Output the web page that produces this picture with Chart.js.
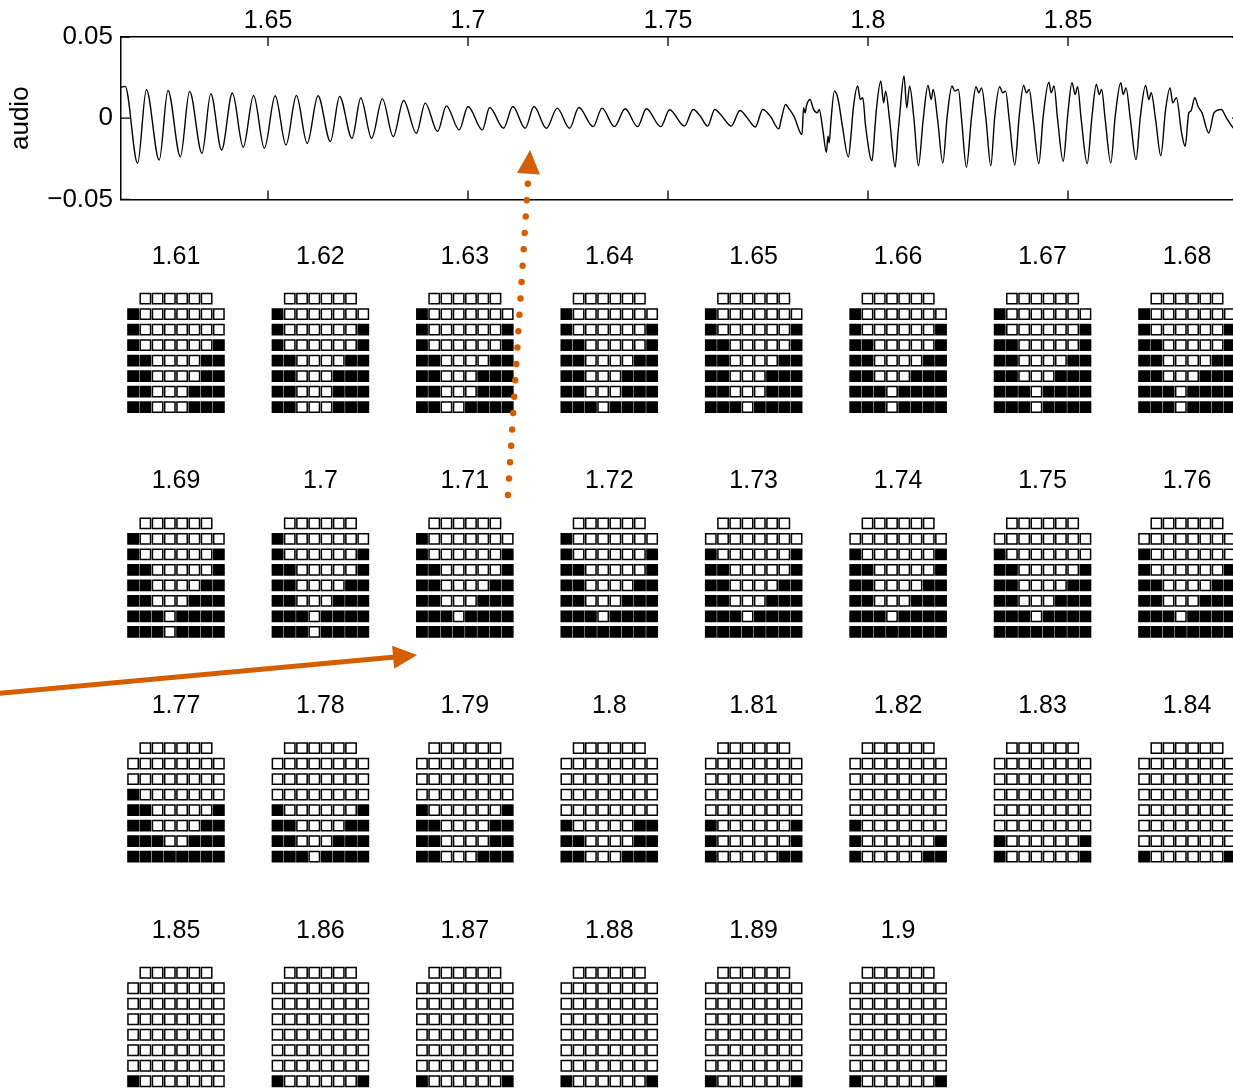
<!DOCTYPE html>
<html>
<head>
<meta charset="utf-8">
<script src="https://cdn.jsdelivr.net/npm/chart.js@4.4.1/dist/chart.umd.min.js"></script>
<style>
  body { margin: 0; background: #fff; overflow: hidden; }
  #wrap { position: relative; width: 1233px; height: 1090px; overflow: hidden; background: #fff; }
  canvas { position: absolute; left: 0; top: 0; }
  #epg { pointer-events: none; }
</style>
</head>
<body>
<div id="wrap">
  <canvas id="wave" width="1250" height="223"></canvas>
  <canvas id="epg" width="1233" height="1090"></canvas>
</div>
<script>
// audio trace (time in s, amplitude)
const waveT = [
  1.61325, 1.6143, 1.6174, 1.6196, 1.6228, 1.6250, 1.6281, 1.6304, 1.6335, 1.6357,
  1.6384, 1.6411, 1.6438, 1.6464, 1.6491, 1.6518, 1.6545, 1.6571, 1.6598, 1.6625,
  1.6656, 1.6679, 1.6710, 1.6732, 1.6759, 1.6786, 1.6813, 1.6839, 1.6871, 1.6893,
  1.6924, 1.6946, 1.6978, 1.7000, 1.7036, 1.7054, 1.7089, 1.7112, 1.7143, 1.7165,
  1.7196, 1.7223, 1.7254, 1.7277, 1.7313, 1.7335, 1.7366, 1.7393, 1.7424, 1.7446,
  1.7482, 1.7504,
  1.7541, 1.7563, 1.7581, 1.7599, 1.7617, 1.7635, 1.7658, 1.7680, 1.7698, 1.7718,
  1.7737, 1.7756, 1.7777, 1.7783, 1.7794, 1.7801, 1.7815, 1.7835, 1.7839, 1.7843,
  1.7846, 1.7855, 1.7864, 1.7873, 1.7878, 1.7887, 1.7896, 1.7900, 1.7903, 1.7907,
  1.7916, 1.7922, 1.7927, 1.7936, 1.7951, 1.7958, 1.7963, 1.7974, 1.7981, 1.7987,
  1.7994, 1.8010, 1.8017, 1.8021, 1.8032, 1.8039, 1.8044, 1.8054, 1.8068, 1.8075,
  1.8079, 1.8090, 1.8097, 1.8104, 1.8115, 1.8126, 1.8138, 1.8150, 1.8158, 1.8163,
  1.8174, 1.8187, 1.8198, 1.8210, 1.8217, 1.8226, 1.8234, 1.8246, 1.8259, 1.8270,
  1.8277, 1.8284, 1.8295, 1.8307, 1.8317, 1.8329, 1.8337, 1.8344, 1.8353, 1.8367,
  1.8378, 1.8389, 1.8396, 1.8403, 1.8413, 1.8427, 1.8438, 1.8452, 1.8458, 1.8465,
  1.8474, 1.8488, 1.8499, 1.8510, 1.8518, 1.8524, 1.8533, 1.8548, 1.8560, 1.8571,
  1.8578, 1.8584, 1.8593, 1.8607, 1.8618, 1.8632, 1.8638, 1.8645, 1.8656, 1.8670,
  1.8681, 1.8694, 1.8702, 1.8708, 1.8719, 1.8732, 1.8744, 1.8755, 1.8762, 1.8771,
  1.8784, 1.8793, 1.8802, 1.8807, 1.8817, 1.8825, 1.8835, 1.8852, 1.8865, 1.8883,
  1.8896, 1.8913, 1.8932
];
const waveV = [
  0.0190, 0.0196, -0.0278, 0.0175, -0.0258, 0.0171, -0.0237, 0.0165, -0.0216, 0.0150,
  -0.0196, 0.0155, -0.0179, 0.0140, -0.0185, 0.0138, -0.0165, 0.0140, -0.0155, 0.0138,
  -0.0144, 0.0134, -0.0124, 0.0124, -0.0124, 0.0119, -0.0113, 0.0109, -0.0093, 0.0093,
  -0.0082, 0.0076, -0.0072, 0.0072, -0.0072, 0.0066, -0.0062, 0.0072, -0.0062, 0.0072,
  -0.0062, 0.0062, -0.0062, 0.0066, -0.0052, 0.0062, -0.0052, 0.0058, -0.0052, 0.0058,
  -0.0052, 0.0052,
  -0.0049, 0.0054, 0.0012, -0.0049, 0.0054, 0.0012, -0.0049, 0.0047, 0.0002, -0.0054,
  0.0054, 0.0012, -0.0066, -0.0008, 0.0084, 0.0064, 0.0012, -0.0101, 0.0064, 0.0033,
  0.0074, 0.0115, 0.0054, 0.0033, 0.0054, -0.0070, -0.0210, -0.0111, -0.0152, -0.0029,
  0.0167, 0.0146, 0.0095, -0.0049, -0.0239, -0.0091, 0.0054, 0.0198, 0.0115, 0.0126,
  -0.0049, -0.0262, -0.0070, 0.0054, 0.0229, 0.0095, 0.0167, -0.0008, -0.0301, -0.0091,
  0.0012, 0.0260, 0.0064, 0.0198, -0.0008, -0.0293, -0.0008, 0.0202, 0.0115, 0.0177,
  -0.0008, -0.0276, 0.0012, 0.0198, 0.0167, 0.0177, -0.0008, -0.0301, 0.0012, 0.0194,
  0.0157, 0.0187, -0.0008, -0.0293, 0.0012, 0.0194, 0.0157, 0.0167, -0.0008, -0.0288,
  0.0012, 0.0202, 0.0157, 0.0177, -0.0008, -0.0280, 0.0012, 0.0222, 0.0157, 0.0198,
  -0.0008, -0.0266, 0.0012, 0.0218, 0.0146, 0.0194, -0.0008, -0.0280, 0.0012, 0.0208,
  0.0146, 0.0177, -0.0008, -0.0276, 0.0012, 0.0218, 0.0146, 0.0187, -0.0008, -0.0255,
  0.0012, 0.0202, 0.0115, 0.0157, -0.0008, -0.0231, 0.0054, 0.0187, 0.0095, 0.0126,
  -0.0091, -0.0173, 0.0033, 0.0043, 0.0126, 0.0074, 0.0033, -0.0091, 0.0033, 0.0054,
  0.0002, -0.0060, -0.0080
];
const xTicks = [1.65, 1.7, 1.75, 1.8, 1.85];
const yTicks = [-0.05, 0, 0.05];

// contact frames: first row has 6 electrodes, the rest 8; '1' = contact
const frameLabels = ['1.61', '1.62', '1.63', '1.64', '1.65', '1.66', '1.67', '1.68',
  '1.69', '1.7', '1.71', '1.72', '1.73', '1.74', '1.75', '1.76',
  '1.77', '1.78', '1.79', '1.8', '1.81', '1.82', '1.83', '1.84',
  '1.85', '1.86', '1.87', '1.88', '1.89', '1.9'];
const contacts = [
  ['000000', '10000000', '10000000', '10000001', '11000011', '11000011', '11000111', '11000111'],
  ['000000', '10000000', '10000001', '10000001', '11000011', '11000111', '11000111', '11000111'],
  ['000000', '10000000', '10000001', '10000001', '11000011', '11000111', '11000111', '11001111'],
  ['000000', '10000000', '10000001', '11000001', '11000011', '11000111', '11000111', '11101111'],
  ['000000', '10000000', '10000001', '11000001', '11000011', '11000111', '11000111', '11101111'],
  ['000000', '10000000', '10000001', '11000001', '11000011', '11000111', '11101111', '11101111'],
  ['000000', '10000000', '10000001', '11000001', '11000011', '11000111', '11101111', '11101111'],
  ['000000', '10000000', '10000001', '11000001', '11000011', '11000111', '11101111', '11101111'],
  ['000000', '10000000', '10000001', '11000001', '11000011', '11000111', '11101111', '11101111'],
  ['000000', '10000000', '10000001', '11000001', '11000011', '11000111', '11101111', '11101111'],
  ['000000', '10000000', '10000001', '11000001', '11000011', '11000111', '11101111', '11111111'],
  ['000000', '10000000', '10000001', '11000001', '11000011', '11000111', '11101111', '11111111'],
  ['000000', '00000000', '10000001', '11000001', '11000011', '11000111', '11101111', '11111111'],
  ['000000', '00000000', '10000001', '11000001', '11000011', '11000111', '11101111', '11111111'],
  ['000000', '00000000', '10000000', '11000001', '11000011', '11000111', '11101111', '11111111'],
  ['000000', '00000000', '10000000', '10000001', '11000011', '11000111', '11101111', '11111111'],
  ['000000', '00000000', '00000000', '10000000', '11000001', '11000011', '11100111', '11111111'],
  ['000000', '00000000', '00000000', '00000000', '10000001', '11000011', '11000111', '11101111'],
  ['000000', '00000000', '00000000', '00000000', '10000001', '11000011', '11000011', '11000111'],
  ['000000', '00000000', '00000000', '00000000', '00000000', '10000011', '11000011', '11000111'],
  ['000000', '00000000', '00000000', '00000000', '00000000', '10000001', '10000001', '10000011'],
  ['000000', '00000000', '00000000', '00000000', '00000000', '10000000', '10000001', '10000011'],
  ['000000', '00000000', '00000000', '00000000', '00000000', '00000000', '10000001', '10000001'],
  ['000000', '00000000', '00000000', '00000000', '00000000', '00000000', '00000000', '10000001'],
  ['000000', '00000000', '00000000', '00000000', '00000000', '00000000', '00000000', '10000000'],
  ['000000', '00000000', '00000000', '00000000', '00000000', '00000000', '00000000', '10000001'],
  ['000000', '00000000', '00000000', '00000000', '00000000', '00000000', '00000000', '10000001'],
  ['000000', '00000000', '00000000', '00000000', '00000000', '00000000', '00000000', '10000001'],
  ['000000', '00000000', '00000000', '00000000', '00000000', '00000000', '00000000', '10000001'],
  ['000000', '00000000', '00000000', '00000000', '00000000', '00000000', '00000000', '10000001']
];

// layout of the frame panel, in electrode units
const PER_ROW = 8;
const GRID_DX = 11.79;
const GRID_DY = 14.495;
const LABEL_DY = -2.7;
const ORANGE = '#D55E00';

Chart.defaults.font.family = '"Liberation Sans", Arial, Helvetica, sans-serif';
Chart.defaults.color = '#000';

const X_MIN = 1.61325, X_MAX = 1.89325;

// inward tick marks on all sides of the audio box
const boxTicks = {
  id: 'boxTicks',
  afterDraw(chart) {
    const { ctx, chartArea: { top, bottom, left, right } } = chart;
    const x = chart.scales.x, y = chart.scales.y;
    ctx.save();
    ctx.strokeStyle = '#000';
    ctx.lineWidth = 1.3;
    ctx.beginPath();
    xTicks.forEach(v => {
      const px = x.getPixelForValue(v);
      ctx.moveTo(px, top); ctx.lineTo(px, top + 9);
      ctx.moveTo(px, bottom); ctx.lineTo(px, bottom - 9);
    });
    yTicks.forEach(v => {
      const py = y.getPixelForValue(v);
      ctx.moveTo(left, py); ctx.lineTo(left + 9, py);
      ctx.moveTo(right, py); ctx.lineTo(right - 9, py);
    });
    ctx.stroke();
    ctx.restore();
  }
};

const sameRangeX = { type: 'linear', min: X_MIN, max: X_MAX };

const waveChart = new Chart(document.getElementById('wave'), {
  type: 'line',
  data: {
    datasets: [{
      data: waveT.map((t, i) => ({ x: t, y: waveV[i] })),
      borderColor: '#000',
      borderWidth: 1.4,
      pointRadius: 0,
      fill: false,
      cubicInterpolationMode: 'monotone'
    }]
  },
  options: {
    responsive: false,
    animation: false,
    layout: { padding: 0, autoPadding: false },
    plugins: { legend: { display: false }, tooltip: { enabled: false } },
    scales: {
      x: {
        ...sameRangeX,
        position: 'top',
        grid: { display: false, drawTicks: false },
        border: { color: '#000', width: 1.5 },
        ticks: { font: { size: 25 }, color: '#000', padding: 1, autoSkip: false, maxRotation: 0,
          callback: v => String(v) },
        afterBuildTicks: s => { s.ticks = xTicks.map(v => ({ value: v })); },
        afterFit: s => { s.height = 37; }
      },
      x2: {
        ...sameRangeX,
        position: 'bottom',
        grid: { display: false, drawTicks: false },
        border: { color: '#000', width: 1.5 },
        ticks: { display: false },
        afterFit: s => { s.height = 16; }
      },
      y: {
        type: 'linear',
        min: -0.05, max: 0.05,
        position: 'left',
        grid: { display: false, drawTicks: false },
        border: { color: '#000', width: 1.5 },
        ticks: { font: { size: 26 }, color: '#000', padding: 8,
          callback: v => v < 0 ? '\u2212' + String(Math.abs(v)) : String(v) },
        afterBuildTicks: s => { s.ticks = yTicks.map(v => ({ value: v })); },
        afterFit: s => { s.width = 121; },
        title: { display: true, text: 'audio', color: '#000', font: { size: 26 }, padding: { top: 5, bottom: 0 } }
      },
      y2: {
        type: 'linear',
        min: -0.05, max: 0.05,
        position: 'right',
        grid: { display: false, drawTicks: false },
        border: { color: '#000', width: 1.5 },
        ticks: { display: false },
        afterFit: s => { s.width = 9; }
      }
    }
  },
  plugins: [boxTicks]
});

// one point per electrode
const cells = [];
contacts.forEach((frame, i) => {
  const c = i % PER_ROW, rr = Math.floor(i / PER_ROW);
  frame.forEach((row, r) => {
    const shift = row.length === 6 ? 1 : 0;
    row.split('').forEach((ch, j) => {
      cells.push({ x: c * GRID_DX + j + shift + 0.5, y: rr * GRID_DY + r, on: ch === '1' });
    });
  });
});

// arrows, in the frame panel's units
const arrows = [
  { from: [31.1, 12.66], to: [32.9, -9.6], dotted: true },
  { from: [-11.2, 25.52], to: [23.68, 22.99], dotted: false }
];

const frameText = {
  id: 'frameText',
  afterDatasetsDraw(chart) {
    const { ctx, scales: { x, y } } = chart;
    ctx.save();
    ctx.font = '25px "Liberation Sans", Arial, sans-serif';
    ctx.fillStyle = '#000';
    ctx.textAlign = 'center';
    ctx.textBaseline = 'middle';
    frameLabels.forEach((lab, i) => {
      const c = i % PER_ROW, rr = Math.floor(i / PER_ROW);
      ctx.fillText(lab, x.getPixelForValue(c * GRID_DX + 4), y.getPixelForValue(rr * GRID_DY + LABEL_DY));
    });
    ctx.restore();
  },
  afterDraw(chart) {
    const { ctx, scales: { x, y } } = chart;
    arrows.forEach(a => {
      const x0 = x.getPixelForValue(a.from[0]), y0 = y.getPixelForValue(a.from[1]);
      const x1 = x.getPixelForValue(a.to[0]), y1 = y.getPixelForValue(a.to[1]);
      const len = Math.hypot(x1 - x0, y1 - y0);
      const ux = (x1 - x0) / len, uy = (y1 - y0) / len;
      const head = 24, half = 11.5;
      const bx = x1 - ux * head, by = y1 - uy * head;
      ctx.save();
      ctx.strokeStyle = ORANGE;
      ctx.fillStyle = ORANGE;
      ctx.beginPath();
      if (a.dotted) {
        ctx.lineWidth = 6.5;
        ctx.lineCap = 'round';
        ctx.setLineDash([0.01, 16.4]);
        ctx.moveTo(x0, y0);
        ctx.lineTo(bx - ux * 6, by - uy * 6);
      } else {
        ctx.lineWidth = 5;
        ctx.moveTo(x0, y0);
        ctx.lineTo(bx + ux * 2, by + uy * 2);
      }
      ctx.stroke();
      ctx.setLineDash([]);
      ctx.beginPath();
      ctx.moveTo(x1, y1);
      ctx.lineTo(bx - uy * half, by + ux * half);
      ctx.lineTo(bx + uy * half, by - ux * half);
      ctx.closePath();
      ctx.fill();
      ctx.restore();
    });
  }
};

const epgChart = new Chart(document.getElementById('epg'), {
  type: 'scatter',
  data: {
    datasets: [{
      data: cells,
      pointStyle: 'rect',
      pointRadius: 7.3,
      pointHoverRadius: 7.3,
      pointBorderWidth: 1.5,
      borderColor: '#000',
      backgroundColor: ctx => (ctx.raw && ctx.raw.on) ? '#000' : '#fff'
    }]
  },
  options: {
    responsive: false,
    animation: false,
    layout: { padding: 0, autoPadding: false },
    plugins: { legend: { display: false }, tooltip: { enabled: false } },
    scales: {
      x: { type: 'linear', display: false, min: -10.366, max: 90.287 },
      y: { type: 'linear', display: false, reverse: true, min: -19.27, max: 51.05 }
    }
  },
  plugins: [frameText]
});
</script>
</body>
</html>
